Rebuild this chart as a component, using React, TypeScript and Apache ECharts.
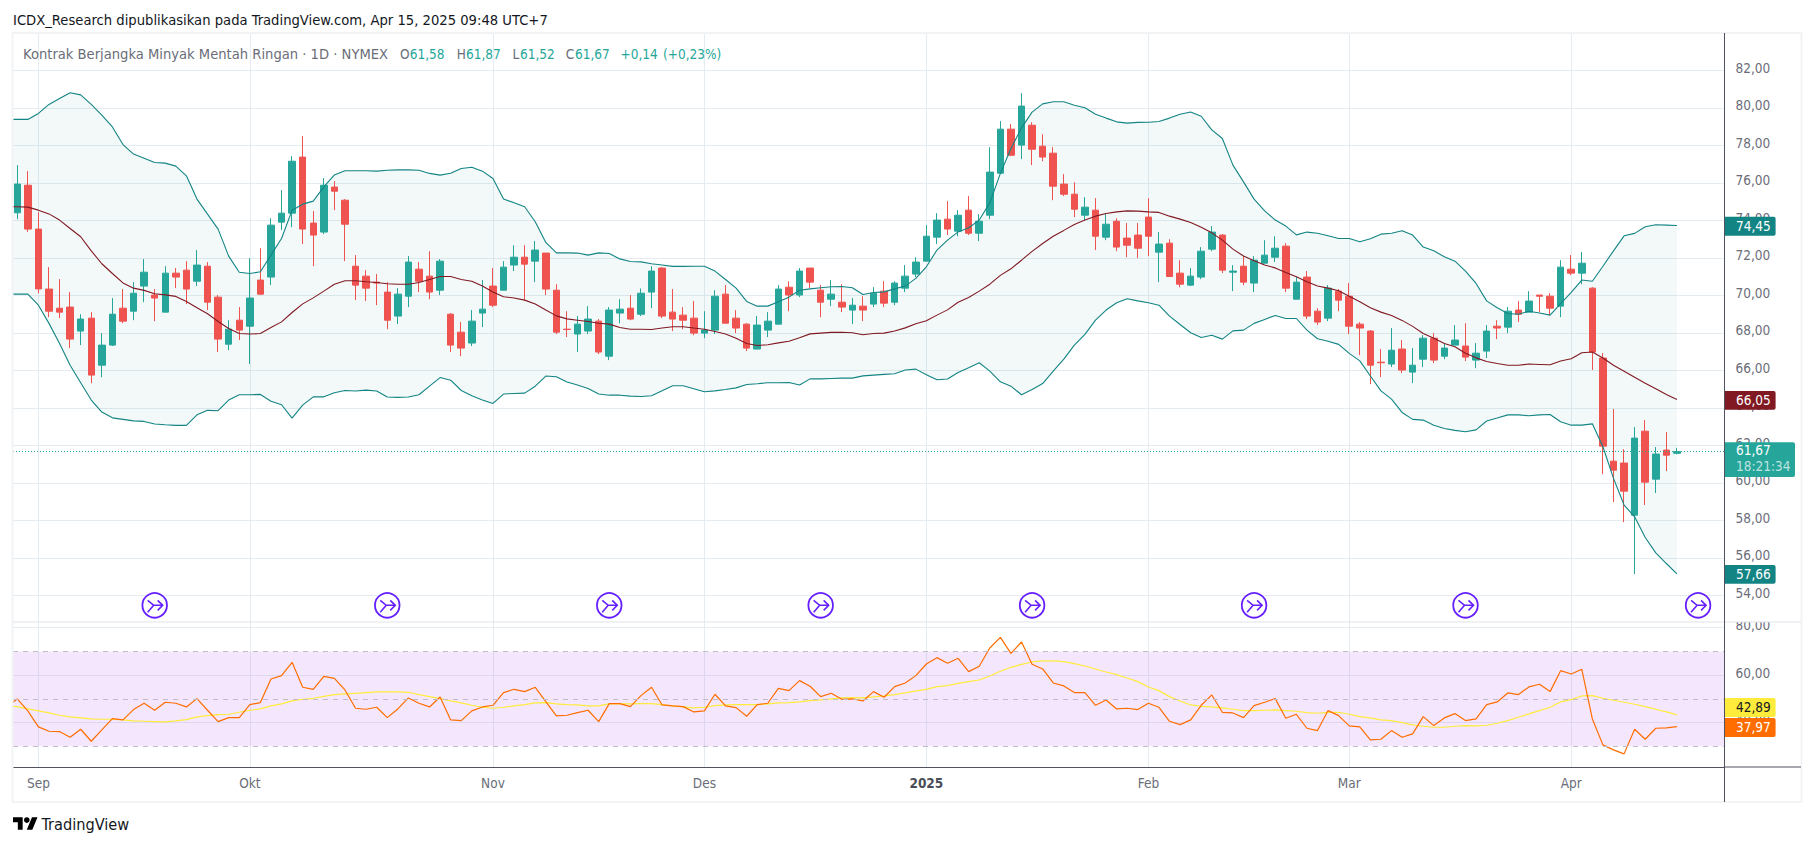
import React, { useEffect, useRef } from "react";
import * as echarts from "echarts";

const FONT = "'DejaVu Sans Condensed', 'DejaVu Sans', sans-serif";
const FS = 13.5;
const TITLE_FS = 14.65;
const LEGEND_FS = 14.6;
const BRAND_FS = 16.2;
const GREEN = "#26a69a", RED = "#ef5350", BAND = "#138484", BASIS = "#801922", RSI = "#ff6d00", RSIMA = "#ffeb3b";
const GRID = "#e4ecf2", AXIS = "#50535e", TEXT = "#6a6d78";

const opens = [74.41,75.88,73.54,70.34,69.32,69.38,68.10,68.79,66.28,67.35,69.32,69.16,70.50,70.02,69.11,71.19,71.35,70.76,71.56,69.91,67.40,68.68,68.36,70.82,70.98,73.91,74.39,77.38,73.86,73.38,75.78,75.08,71.56,71.03,70.71,70.18,68.9,69.96,71.40,71.03,70.28,69.0,68.04,67.46,69.06,70.5,70.28,71.62,72.04,71.83,72.26,70.28,68.20,67.94,68.10,68.63,66.76,69.06,
69.32,69.0,70.18,71.46,69.11,68.95,68.79,67.99,68.15,70.07,68.79,68.47,67.14,68.15,68.47,70.44,70.02,71.46,70.28,69.80,69.64,69.22,69.43,69.54,70.23,69.64,70.39,71.14,71.83,73.11,74.07,73.43,74.55,73.32,74.28,76.52,78.87,78.02,79.08,77.96,77.59,75.94,75.40,74.28,74.55,73.11,73.96,73.06,73.22,74.18,72.31,72.79,71.19,70.55,70.98,72.47,
73.22,71.24,71.56,70.66,71.72,72.04,72.63,69.80,70.98,69.16,68.79,70.23,69.96,68.47,68.10,66.44,66.34,67.14,65.91,66.60,67.72,66.76,67.35,67.30,66.55,67.03,68.36,68.31,69.22,69.11,70.02,69.96,69.43,71.40,71.19,70.39,66.66,61.16,61.06,58.28,62.76,60.20,61.75,61.58];
const highs = [76.95,76.63,74.44,71.51,70.87,70.18,69.0,69.11,67.99,69.86,70.34,70.71,71.94,70.34,71.56,71.46,71.83,72.42,71.78,70.02,68.68,69.38,71.99,72.52,74.12,75.62,77.43,78.5,74.50,76.26,76.10,75.14,72.15,71.35,71.14,70.71,70.39,72.10,71.78,72.36,71.94,69.06,68.58,69.22,70.82,71.46,71.83,72.68,72.68,72.90,72.26,70.60,69.16,68.9,69.43,68.74,69.38,69.80,
70.02,70.37,71.56,71.51,70.34,69.38,69.70,69.16,70.28,70.55,69.22,68.52,68.9,69.11,70.55,70.76,71.46,71.46,70.55,70.82,70.60,69.86,69.96,70.44,70.76,70.76,71.62,72.04,73.75,74.39,75.03,74.55,75.30,74.34,77.91,79.30,79.14,80.79,79.24,78.60,77.91,76.47,76.04,75.24,75.19,74.34,74.12,73.86,73.86,75.19,73.38,73.0,71.88,71.46,72.58,73.70,
73.27,71.62,72.10,72.10,72.95,73.16,72.79,70.98,71.30,69.32,70.55,70.34,70.66,68.58,68.15,67.14,68.26,67.62,67.19,67.88,67.99,67.46,68.42,68.52,67.46,68.42,68.68,69.38,69.70,70.23,70.02,70.12,71.88,72.15,72.31,70.44,66.92,63.94,61.80,62.98,63.35,61.91,62.71,61.87];
const lows = [74.07,73.39,70.12,68.84,68.79,67.19,67.35,65.32,65.64,67.30,68.52,68.68,69.64,68.63,69.11,70.39,69.54,70.50,69.22,66.98,67.08,67.62,66.34,70.02,70.55,73.48,73.64,72.74,71.56,73.27,74.55,71.83,69.75,69.70,69.48,68.20,68.47,69.38,70.18,69.80,70.02,66.98,66.76,67.30,68.31,69.38,70.28,71.30,69.75,70.71,70.02,67.94,67.78,66.98,67.94,66.87,66.55,68.52,
68.68,68.9,69.32,68.79,68.10,68.20,67.88,67.72,67.94,68.52,67.99,67.03,67.14,67.78,68.47,69.16,69.91,70.39,68.84,69.43,69.11,68.47,68.63,69.38,69.38,69.48,70.18,70.98,71.83,72.74,73.22,73.16,73.22,72.90,74.07,76.52,77.43,77.27,76.95,77.16,75.08,75.30,74.18,74.02,72.42,72.95,72.36,72.04,71.99,72.10,70.71,70.98,70.44,70.50,70.87,72.36,
71.19,70.23,70.55,70.18,71.72,71.78,70.18,69.80,68.74,68.42,68.63,69.16,67.94,66.82,65.27,65.64,66.18,65.86,65.32,66.18,66.39,66.60,67.35,66.50,66.12,66.66,67.67,67.99,68.58,69.11,69.11,68.95,68.84,71.08,70.60,66.02,60.47,58.98,57.91,55.14,58.82,59.46,60.63,61.52];
const closes = [75.94,73.54,70.35,69.16,69.11,67.67,68.74,65.75,67.35,69.0,68.63,70.12,71.24,69.86,71.19,70.98,70.34,71.62,69.64,67.67,68.2,68.15,69.86,70.07,73.75,74.39,77.16,73.54,73.22,75.88,75.56,73.80,70.55,70.39,70.66,68.68,70.07,71.78,70.76,70.18,71.83,67.35,67.19,68.63,69.27,69.48,71.51,72.04,71.67,72.42,70.34,68.04,68.18,68.47,68.74,66.98,69.22,69.27,
68.74,70.12,71.30,68.9,68.74,68.68,67.99,68.15,69.96,68.52,68.26,67.19,68.42,68.63,70.34,70.02,71.30,70.71,69.64,70.07,69.38,69.48,69.22,70.12,69.59,70.66,71.03,71.78,73.16,74.02,73.54,74.28,73.32,73.96,76.58,78.87,77.48,80.10,77.80,77.38,75.83,75.40,74.60,74.71,73.16,73.80,72.58,72.68,72.52,73.16,72.74,71.01,70.60,71.03,72.36,73.38,
71.35,71.30,70.71,71.88,72.15,72.52,70.39,70.71,68.9,68.58,70.39,69.75,68.36,68.26,66.28,66.41,67.08,66.02,66.28,67.72,66.55,67.19,67.62,66.71,66.92,68.10,68.26,69.16,69.0,69.70,69.96,69.32,71.51,71.19,71.72,66.98,61.96,60.68,59.56,62.39,60.04,61.54,61.48,61.67];

const bbUpper = [79.39,79.39,79.71,80.19,80.51,80.81,80.70,80.19,79.62,78.99,78.05,77.54,77.32,77.09,77.06,76.90,76.38,75.14,74.34,73.54,72.10,71.24,71.17,71.26,72.15,73.04,74.55,74.87,75.03,75.79,76.43,76.65,76.65,76.65,76.63,76.68,76.70,76.70,76.68,76.51,76.42,76.52,76.77,76.84,76.63,76.24,75.14,74.94,74.73,73.93,72.83,72.27,72.27,72.26,72.15,72.27,72.24,71.95,
71.81,71.79,71.69,71.62,71.55,71.55,71.56,71.56,71.30,70.85,70.39,69.68,69.43,69.43,69.66,69.91,70.28,70.35,70.41,70.46,70.48,70.41,70.05,70.16,70.19,70.35,70.50,70.91,71.53,72.42,72.95,73.39,73.61,74.02,74.94,76.51,77.84,78.94,79.78,80.22,80.33,80.33,80.15,80.01,79.67,79.46,79.26,79.19,79.23,79.24,79.28,79.46,79.67,79.79,79.56,78.83,
78.37,76.95,76.06,75.14,74.51,74.02,73.70,73.23,73.38,73.32,73.18,73.04,73.04,72.86,73.02,73.27,73.32,73.45,73.22,72.58,72.38,72.06,71.83,71.30,70.64,69.71,69.34,69.04,69.0,69.16,69.06,68.95,69.57,70.16,70.82,70.76,71.56,72.38,73.18,73.31,73.66,73.77,73.75,73.73];
const bbBasis = [74.73,74.71,74.55,74.35,74.02,73.57,73.13,72.38,71.69,71.17,70.67,70.39,70.27,70.09,70.03,69.95,69.68,69.34,69.02,68.61,68.24,67.97,67.94,67.97,68.29,68.59,69.09,69.55,69.87,70.23,70.60,70.78,70.78,70.73,70.69,70.62,70.60,70.60,70.69,70.85,71.01,71.01,70.85,70.76,70.50,70.18,69.93,69.86,69.75,69.54,69.22,68.91,68.75,68.68,68.61,68.52,68.47,68.29,
68.20,68.20,68.18,68.26,68.33,68.33,68.26,68.20,68.08,67.94,67.72,67.44,67.33,67.37,67.47,67.56,67.74,67.95,67.99,68.03,68.04,68.01,67.90,67.97,67.99,68.10,68.27,68.49,68.65,68.95,69.23,69.64,69.89,70.23,70.60,71.07,71.42,71.88,72.35,72.77,73.16,73.47,73.79,74.02,74.23,74.37,74.46,74.51,74.50,74.46,74.43,74.23,74.07,73.89,73.64,73.34,
72.95,72.47,72.10,71.85,71.62,71.47,71.23,71.0,70.73,70.50,70.39,70.25,69.96,69.66,69.34,69.11,68.93,68.67,68.35,67.97,67.72,67.44,67.26,66.92,66.67,66.48,66.37,66.28,66.28,66.34,66.32,66.30,66.50,66.62,66.94,66.98,66.66,66.28,65.96,65.64,65.32,65.02,64.72,64.45];
const bbLower = [70.07,70.07,69.48,68.51,67.44,66.28,65.34,64.42,63.78,63.47,63.39,63.31,63.28,63.14,63.10,63.07,63.07,63.63,63.87,63.85,64.42,64.70,64.70,64.72,64.36,64.17,63.46,64.15,64.59,64.59,64.81,64.93,64.90,64.95,64.90,64.58,64.56,64.58,64.70,65.16,65.62,65.48,64.93,64.65,64.42,64.24,64.74,64.77,64.79,65.16,65.70,65.66,65.38,65.22,65.04,64.74,64.68,64.68,
64.63,64.61,64.65,64.91,65.18,65.18,65.02,64.86,64.91,64.98,65.07,65.25,65.29,65.34,65.34,65.36,65.22,65.55,65.55,65.57,65.59,65.59,65.71,65.75,65.79,65.82,66.02,66.07,65.77,65.50,65.54,65.89,66.14,66.41,65.96,65.39,65.16,64.70,64.98,65.30,65.96,66.60,67.35,67.92,68.68,69.22,69.61,69.82,69.71,69.61,69.48,68.90,68.45,68.01,67.76,67.88,
67.67,68.11,68.15,68.51,68.72,68.93,68.77,68.77,68.15,67.69,67.56,67.39,66.91,66.51,65.70,64.91,64.47,63.76,63.39,63.35,63.08,62.90,62.80,62.73,62.83,63.30,63.46,63.63,63.63,63.58,63.63,63.65,63.26,63.08,63.08,63.15,61.93,60.24,58.82,58.19,57.09,56.27,55.70,55.15];
const rsi = [49.96,44.91,38.17,36.34,36.2,33.82,37.18,32.13,36.90,41.68,41.12,45.47,48.14,45.19,48.56,48.14,46.59,50.10,45.19,40.41,42.10,42.10,47.57,48.42,58.38,59.79,65.40,54.88,54.03,59.51,58.67,53.75,46.03,45.61,46.45,42.10,45.75,50.38,48.14,46.59,50.80,41.12,40.83,44.91,46.59,47.29,52.63,54.03,53.05,54.88,48.84,42.80,43.08,44.20,45.19,40.41,48.0,48.0,
46.73,51.37,54.88,47.43,47.01,46.73,44.49,44.91,51.93,47.01,46.31,42.66,47.57,48.14,54.45,53.47,57.68,55.30,50.94,52.35,49.82,49.96,49.12,53.05,50.66,55.16,56.70,59.79,64.70,67.37,64.98,67.09,61.47,63.72,71.44,75.94,69.20,73.97,64.56,62.60,56.70,55.44,52.63,52.63,47.29,49.54,45.75,46.03,45.47,48.14,46.45,40.55,39.15,41.12,47.29,51.65,
44.34,44.06,42.10,47.15,48.56,50.10,41.82,43.50,37.61,36.62,45.05,42.94,38.59,38.17,32.69,32.97,36.62,33.82,35.22,42.52,38.73,41.96,43.78,40.83,41.54,47.57,48.70,52.49,51.79,55.02,56.14,53.05,61.89,60.49,62.46,41.54,30.59,28.48,26.80,37.18,32.97,37.61,37.75,38.31];
const rsiMa = [46.73,45.75,44.91,44.06,43.08,42.38,41.96,41.54,41.40,41.40,41.12,40.69,40.55,40.41,40.27,40.69,41.26,42.38,42.94,43.36,43.50,44.34,45.19,45.75,47.01,47.86,49.12,49.82,50.24,51.08,51.79,52.07,52.35,52.63,52.91,52.91,52.91,52.77,51.79,50.94,50.10,49.12,48.28,47.29,46.45,46.03,46.45,47.01,47.57,48.28,48.42,47.86,47.57,47.43,47.01,47.01,47.86,48.0,
47.86,48.0,48.0,47.57,47.01,46.59,46.17,46.45,47.15,47.43,47.57,47.57,47.57,47.86,48.28,48.42,48.70,49.26,49.54,49.96,50.38,50.52,50.38,50.80,51.22,51.79,52.49,53.33,54.03,55.16,55.58,56.56,57.26,57.96,59.65,61.61,63.30,64.56,65.55,65.97,65.97,65.69,64.84,63.86,62.60,61.33,60.21,58.81,57.26,55.02,53.47,50.94,49.12,47.43,46.87,46.59,
46.17,45.61,45.05,45.05,45.19,45.33,45.05,44.77,44.20,43.92,44.34,44.34,43.50,42.52,41.96,41.12,40.83,39.99,39.01,38.45,38.03,38.03,38.45,38.73,38.59,38.87,39.71,40.83,42.24,43.64,45.05,46.45,48.70,49.68,51.22,51.36,50.24,49.40,48.56,47.71,46.73,45.61,44.49,43.22];

const rsiEdge = 46.45, rsiMaEdge = 46.87;
const priceTicks = [54,56,58,60,62,64,66,68,70,72,74,76,78,80,82];
const rsiTicks = [40,60,80];
const monthIndex = [2,22,45,65,86,107,126,147];
const monthNames = ["Sep","Okt","Nov","Des","2025","Feb","Mar","Apr"];
const markerIndex = [13,35,56,76,96,117,137,159];
const markerPrice = 53.47;
const lastPrice = 61.67;
const rsiLevels = [70,50,30];

const series2 = (vals: number[], edge: number) => [[-1, edge], ...vals.map((v, i) => [i, v])];
const comma = (v: number) => v.toFixed(2).replace(".", ",");

function buildOption() {
  const lineBase = { type: "line", showSymbol: false, symbol: "none", silent: true, clip: true };
  const font = `${FS}px ${FONT}`;
  const tag = (y0: number, y1: number, x1: number, bg: string, label: string, fg = "#fff") => [
    { type: "rect", z: 100, shape: { x: 1725, y: y0, width: x1 - 1725, height: y1 - y0, r: [0, 2, 2, 0] }, style: { fill: bg } },
    { type: "text", z: 101, x: 1736, y: (y0 + y1) / 2 - 0.5, style: { text: label, fill: fg, font, textVerticalAlign: "middle" } },
  ];
  const txt = (x: number, text: string, fill: string, f = font) => ({
    type: "text", z: 20, x, y: 53.5, style: { text, fill, font: f, textVerticalAlign: "middle" },
  });
  const graphics: any[] = [
    { type: "rect", z: 50, shape: { x: 1726, y: 606, width: 74, height: 16 }, style: { fill: "#fff" } },
    { type: "rect", z: 51, shape: { x: 12.5, y: 33, width: 1789, height: 769 }, style: { fill: "none", stroke: "#f2f3f5", lineWidth: 2 } },
    { type: "line", z: 60, shape: { x1: 13, y1: 622, x2: 1801, y2: 622 }, style: { stroke: "#e0e3eb", lineWidth: 1 } },
    { type: "line", z: 60, shape: { x1: 1724, y1: 767, x2: 1801, y2: 767 }, style: { stroke: AXIS, lineWidth: 1 } },
    { type: "line", z: 60, shape: { x1: 1724.5, y1: 33, x2: 1724.5, y2: 802 }, style: { stroke: AXIS, lineWidth: 1 } },
    { type: "text", x: 13, y: 19.5, style: { text: "ICDX_Research dipublikasikan pada TradingView.com, Apr 15, 2025 09:48 UTC+7", fill: "#131722", font: `${TITLE_FS}px ${FONT}`, textVerticalAlign: "middle" } },
    txt(23, "Kontrak Berjangka Minyak Mentah Ringan · 1D · NYMEX", TEXT, `${LEGEND_FS}px ${FONT}`),
    txt(400, "O", TEXT), txt(409.7, "61,58", GREEN),
    txt(456.7, "H", TEXT), txt(466, "61,87", GREEN),
    txt(512.5, "L", TEXT), txt(520, "61,52", GREEN),
    txt(565.8, "C", TEXT), txt(575, "61,67", GREEN),
    txt(620.6, "+0,14", GREEN), txt(663, "(+0,23%)", GREEN),
    ...tag(216.7, 235.7, 1775.6, BAND, "74,45"),
    ...tag(391, 409.7, 1775.6, BASIS, "66,05"),
    ...tag(565, 583.7, 1775.6, BAND, "57,66"),
    ...tag(698, 717, 1775.6, RSIMA, "42,89", "#131722"),
    ...tag(718, 737, 1775.6, RSI, "37,97"),
    { type: "rect", z: 100, shape: { x: 1725, y: 442.3, width: 70, height: 34.7, r: [0, 2, 2, 0] }, style: { fill: GREEN } },
    { type: "text", z: 101, x: 1736, y: 450, style: { text: "61,67", fill: "#fff", font, textVerticalAlign: "middle" } },
    { type: "text", z: 101, x: 1736, y: 466, style: { text: "18:21:34", fill: "rgba(255,255,255,0.7)", font, textVerticalAlign: "middle" } },
    { type: "tvlogo", x: 13, y: 814.6, scaleX: 0.69, scaleY: 0.69, style: { fill: "#000" } },
    { type: "text", x: 41.5, y: 824.5, style: { text: "TradingView", fill: "#131722", font: `${BRAND_FS}px ${FONT}`, textVerticalAlign: "middle" } },
  ];
  const yLabel = { color: TEXT, fontFamily: FONT, fontSize: FS, margin: 11, verticalAlign: "bottom", lineHeight: 5, formatter: comma };

  return {
    animation: false,
    backgroundColor: "#fff",
    graphic: graphics,
    grid: [
      { left: 13, right: 1814 - 1724.5, top: 33, height: 589 },
      { left: 13, right: 1814 - 1724.5, top: 622, height: 145 },
    ],
    xAxis: [
      {
        type: "value", gridIndex: 0, min: -0.403, max: 161.5,
        axisLine: { show: false }, axisLabel: { show: false },
        axisTick: { show: false, customValues: monthIndex },
        splitLine: { show: true, lineStyle: { color: GRID, width: 1 } },
      },
      {
        type: "value", gridIndex: 1, min: -0.403, max: 161.5,
        axisLine: { show: true, onZero: false, lineStyle: { color: AXIS, width: 1 } },
        axisTick: { show: false, customValues: monthIndex },
        splitLine: { show: true, lineStyle: { color: GRID, width: 1 } },
        axisLabel: {
          customValues: monthIndex, color: TEXT, fontFamily: FONT, fontSize: FS, margin: 9,
          formatter: (v: number) => {
            const n = monthNames[monthIndex.indexOf(v)];
            return n === "2025" ? `{b|${n}}` : n;
          },
          rich: { b: { fontWeight: "bold", color: "#4a4d58", fontFamily: FONT, fontSize: FS } },
        },
      },
    ],
    yAxis: [
      {
        type: "value", gridIndex: 0, position: "right", min: 52.58, max: 84, scale: true,
        axisLine: { show: false },
        axisTick: { show: false, customValues: priceTicks },
        splitLine: { show: true, lineStyle: { color: GRID, width: 1 } },
        axisLabel: { ...yLabel, customValues: priceTicks },
      },
      {
        type: "value", gridIndex: 1, position: "right", min: 21.27, max: 82.4, scale: true,
        axisLine: { show: false },
        axisTick: { show: false, customValues: rsiTicks },
        splitLine: { show: true, lineStyle: { color: GRID, width: 1 } },
        axisLabel: { ...yLabel, customValues: rsiTicks },
      },
    ],
    series: [
      {
        type: "custom", xAxisIndex: 0, yAxisIndex: 0, z: 1, clip: true, silent: true,
        data: [[10, 70]],
        encode: { x: 0, y: 1 },
        renderItem: (_p: any, api: any) => {
          const up = bbUpper.map((v, i) => api.coord([i, v]));
          const lo = bbLower.map((v, i) => api.coord([i, v]));
          const edgeU = api.coord([-1, bbUpper[0]]);
          const edgeL = api.coord([-1, bbLower[0]]);
          return {
            type: "polygon",
            shape: { points: [edgeU, ...up, ...lo.reverse(), edgeL] },
            style: { fill: "rgba(19,132,132,0.05)", stroke: "none" },
          };
        },
      },
      {
        type: "candlestick", xAxisIndex: 0, yAxisIndex: 0, z: 3, barWidth: 7, clip: true, silent: true,
        itemStyle: { color: GREEN, color0: RED, borderColor: GREEN, borderColor0: RED, borderWidth: 1 },
        data: opens.map((o, i) => [i, o, closes[i], lows[i], highs[i]]),
        markLine: {
          silent: true, symbol: "none", label: { show: false }, animation: false,
          lineStyle: { color: GREEN, type: [1, 2], width: 1 },
          data: [{ yAxis: lastPrice }],
        },
      },
      { ...lineBase, name: "BB Upper", xAxisIndex: 0, yAxisIndex: 0, z: 4, lineStyle: { color: BAND, width: 1.1 }, data: series2(bbUpper, bbUpper[0]) },
      { ...lineBase, name: "BB Lower", xAxisIndex: 0, yAxisIndex: 0, z: 4, lineStyle: { color: BAND, width: 1.1 }, data: series2(bbLower, bbLower[0]) },
      { ...lineBase, name: "BB Basis", xAxisIndex: 0, yAxisIndex: 0, z: 4, lineStyle: { color: BASIS, width: 1.1 }, data: series2(bbBasis, bbBasis[0]) },
      {
        type: "custom", xAxisIndex: 0, yAxisIndex: 0, z: 5, clip: false, silent: true,
        data: markerIndex.map((i) => [i, markerPrice]),
        encode: { x: 0, y: 1 },
        renderItem: (_p: any, api: any) => {
          const p = api.coord([api.value(0), api.value(1)]);
          const st = { stroke: "#651fff", lineWidth: 1.6, fill: "none" };
          return {
            type: "group", x: p[0], y: p[1],
            children: [
              { type: "circle", shape: { cx: 0, cy: 0, r: 12.3 }, style: { fill: "#fff", stroke: "#651fff", lineWidth: 1.8 } },
              { type: "polyline", shape: { points: [[-7, -5], [-1, 0], [8, 0]] }, style: st },
              { type: "polyline", shape: { points: [[-7, 7], [-1, 0]] }, style: st },
              { type: "polyline", shape: { points: [[3, -5], [8, 0], [3, 5]] }, style: st },
            ],
          };
        },
      },
      {
        ...lineBase, name: "RSI", xAxisIndex: 1, yAxisIndex: 1, z: 4, lineStyle: { color: RSI, width: 1.2 },
        data: series2(rsi, rsiEdge),
        markArea: { silent: true, itemStyle: { color: "rgba(155,39,240,0.11)" }, data: [[{ yAxis: rsiLevels[0] }, { yAxis: rsiLevels[2] }]] },
        markLine: {
          silent: true, symbol: "none", label: { show: false }, animation: false,
          lineStyle: { color: "#c0bcc6", type: [5, 5], width: 1 },
          data: rsiLevels.map((l) => ({ yAxis: l })),
        },
      },
      { ...lineBase, name: "RSI MA", xAxisIndex: 1, yAxisIndex: 1, z: 3, lineStyle: { color: RSIMA, width: 1.2 }, data: series2(rsiMa, rsiMaEdge) },
    ],
  };
}

export default function App() {
  const ref = useRef<HTMLDivElement>(null);
  useEffect(() => {
    document.body.style.margin = "0";
    echarts.graphic.registerShape(
      "tvlogo",
      echarts.graphic.extendPath("M14 22H7V11H0V4h14v18zM28 22h-8l7.5-18h8L28 22zM24 8a4 4 0 1 1-8 0a4 4 0 1 1 8 0z", {})
    );
    const chart = echarts.init(ref.current!, null, { renderer: "svg" });
    chart.setOption(buildOption() as any);
    return () => chart.dispose();
  }, []);
  return <div ref={ref} style={{ width: 1814, height: 846 }} />;
}
